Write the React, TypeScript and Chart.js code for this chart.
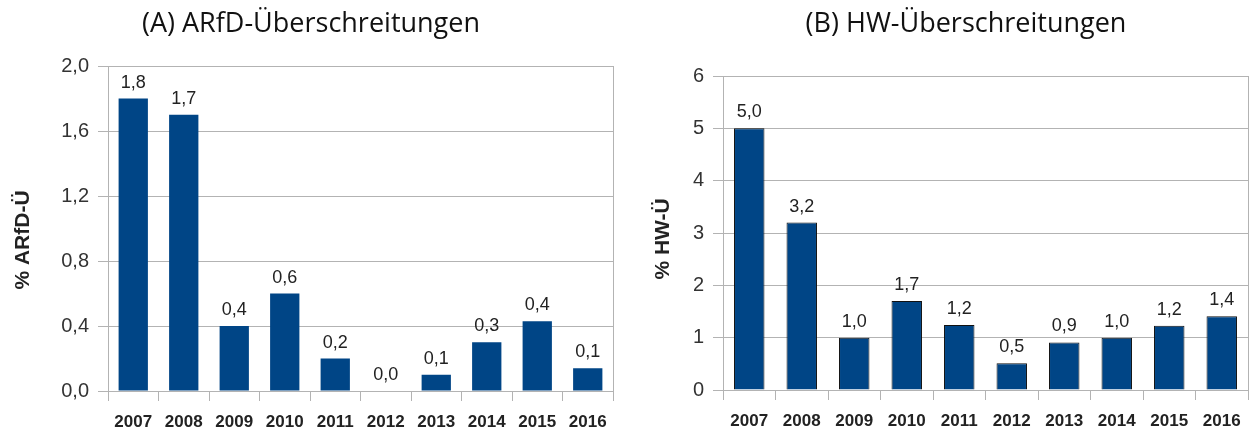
import React, { useEffect, useRef } from 'react';
import { Chart, registerables } from 'chart.js';

Chart.register(...registerables);

const years = ['2007', '2008', '2009', '2010', '2011', '2012', '2013', '2014', '2015', '2016'];
const arfdValues = [1.8, 1.7, 0.4, 0.6, 0.2, 0.0, 0.1, 0.3, 0.43, 0.14];
const hwValues = [5.0, 3.2, 1.0, 1.7, 1.24, 0.51, 0.91, 1.0, 1.23, 1.41];
const arfdAxis = { min: 0, max: 2, step: 0.4, decimals: 1 };
const hwAxis = { min: 0, max: 6, step: 1, decimals: 0 };
const titleA = '(A) ARfD-Überschreitungen';
const titleB = '(B) HW-Überschreitungen';
const yTitleA = '% ARfD-Ü';
const yTitleB = '% HW-Ü';

const BAR = '#004586';
const GRID = '#b3b3b3';
const SANS = "'Liberation Sans', Arial, sans-serif";

const fmt = (v: number, d: number) => v.toFixed(d).replace('.', ',');

const textPlugin = {
  id: 'extraTexts',
  afterDatasetsDraw(chart: any, _args: any, opts: any) {
    const ctx = chart.ctx;
    ctx.save();
    // value labels
    const meta = chart.getDatasetMeta(0);
    const data = chart.data.datasets[0].data as number[];
    ctx.font = `18px ${SANS}`;
    ctx.fillStyle = '#222';
    ctx.textAlign = 'center';
    ctx.textBaseline = 'alphabetic';
    meta.data.forEach((el: any, i: number) => {
      ctx.fillText(fmt(data[i], 1), el.x, el.y - 11);
    });
    // title
    ctx.font = `27px 'Open Sans', 'Noto Sans', sans-serif`;
    ctx.fillStyle = '#111';
    ctx.textBaseline = 'middle';
    ctx.fillText(opts.title, opts.titleX, opts.titleY);
    // y axis title
    ctx.translate(opts.yTitleX, opts.yTitleY);
    ctx.rotate(-Math.PI / 2);
    ctx.font = `bold 21px ${SANS}`;
    ctx.fillStyle = '#222';
    ctx.fillText(opts.yTitle, 0, 0);
    ctx.restore();
  },
};

type P = {
  values: number[];
  axis: { min: number; max: number; step: number; decimals: number };
  border: boolean;
  padRight: number;
  padTop: number;
  yWidth: number;
  xHeight: number;
  title: string;
  titleX: number;
  yTitle: string;
  yTitleX: number;
  yTitleY: number;
};

function makeChart(canvas: HTMLCanvasElement, p: P) {
  return new Chart(canvas, {
    type: 'bar',
    data: {
      labels: years,
      datasets: [
        {
          data: p.values,
          backgroundColor: BAR,
          borderColor: '#111',
          borderWidth: p.border ? 1 : 0,
          barPercentage: 0.58,
          categoryPercentage: 1,
        },
      ],
    },
    plugins: [textPlugin],
    options: {
      responsive: false,
      animation: false,
      devicePixelRatio: 1,
      layout: { padding: { left: 0, right: p.padRight, top: p.padTop, bottom: 0 } },
      plugins: {
        legend: { display: false },
        tooltip: { enabled: false },
        title: { display: false },
        extraTexts: {
          title: p.title,
          titleX: p.titleX,
          titleY: 24,
          yTitle: p.yTitle,
          yTitleX: p.yTitleX,
          yTitleY: p.yTitleY,
        },
      } as any,
      scales: {
        x: {
          offset: true,
          grid: {
            offset: true,
            color: (c: any) => (c.type === 'scale' ? GRID : 'rgba(0,0,0,0)'),
            tickColor: GRID,
            tickLength: 10,
            drawTicks: true,
          },
          border: { display: true, color: GRID },
          ticks: {
            font: { family: SANS, size: 17, weight: 'bold' },
            color: '#222',
            padding: 11,
            maxRotation: 0,
            autoSkip: false,
          },
          afterFit: (s: any) => {
            s.height = p.xHeight;
          },
        },
        y: {
          min: p.axis.min,
          max: p.axis.max,
          grid: { color: GRID, tickColor: GRID, tickLength: 10 },
          border: { display: true, color: GRID },
          ticks: {
            stepSize: p.axis.step,
            font: { family: SANS, size: 20 },
            color: '#333',
            padding: 9,
            callback: (v: any) => fmt(Number(v), p.axis.decimals),
          },
          afterFit: (s: any) => {
            s.width = p.yWidth;
          },
        },
      },
    } as any,
  });
}

export default function App() {
  const leftRef = useRef<HTMLCanvasElement>(null);
  const rightRef = useRef<HTMLCanvasElement>(null);

  useEffect(() => {
    const a = makeChart(leftRef.current!, {
      values: arfdValues,
      axis: arfdAxis,
      border: false,
      padRight: 14,
      padTop: 66,
      yWidth: 108,
      xHeight: 43,
      title: titleA,
      titleX: 311,
      yTitle: yTitleA,
      yTitleX: 23,
      yTitleY: 240,
    });
    const b = makeChart(rightRef.current!, {
      values: hwValues,
      axis: hwAxis,
      border: true,
      padRight: 7,
      padTop: 76,
      yWidth: 96,
      xHeight: 44,
      title: titleB,
      titleX: 339,
      yTitle: yTitleB,
      yTitleX: 36,
      yTitleY: 239,
    });
    return () => {
      a.destroy();
      b.destroy();
    };
  }, []);

  return (
    <div style={{ position: 'absolute', left: 0, top: 0, width: 1255, height: 434, background: '#fff' }}>
      <canvas ref={leftRef} width={627} height={434} style={{ position: 'absolute', left: 0, top: 0 }} />
      <canvas ref={rightRef} width={628} height={434} style={{ position: 'absolute', left: 627, top: 0 }} />
    </div>
  );
}
